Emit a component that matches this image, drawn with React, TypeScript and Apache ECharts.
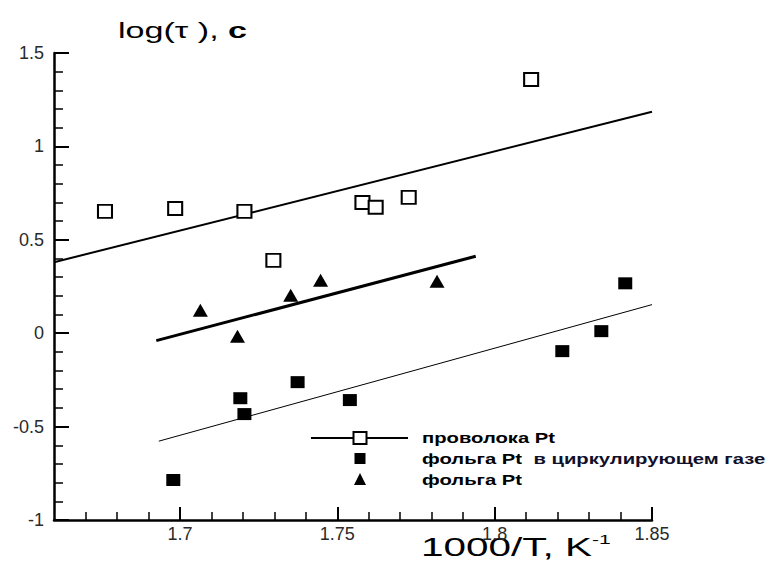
import React, { useEffect, useRef } from 'react';
import * as echarts from 'echarts';

// Axis settings
const xMin = 1.66;
const xMax = 1.85;
const xMajorTicks = [1.7, 1.75, 1.8, 1.85];
const xMinorTicks = [1.67, 1.68, 1.69, 1.71, 1.72, 1.73, 1.74, 1.76, 1.77, 1.78, 1.79, 1.81, 1.82, 1.83, 1.84];
const yMin = -1;
const yMax = 1.5;
const yInterval = 0.5;

// Data: проволока Pt (open squares)
const wireX = [1.6762, 1.6985, 1.7205, 1.7297, 1.758, 1.7622, 1.7727, 1.8116];
const wireY = [0.652, 0.668, 0.652, 0.39, 0.7, 0.674, 0.727, 1.358];
// фольга Pt в циркулирующем газе (filled squares)
const foilGasX = [1.6979, 1.7192, 1.7205, 1.7374, 1.754, 1.8215, 1.8339, 1.8415];
const foilGasY = [-0.786, -0.348, -0.433, -0.262, -0.358, -0.096, 0.011, 0.267];
// фольга Pt (triangles)
const foilX = [1.7065, 1.7183, 1.7352, 1.7447, 1.7817];
const foilY = [0.123, -0.016, 0.203, 0.283, 0.278];

// Fit lines (end points)
const wireFitX = [1.66, 1.85];
const wireFitY = [0.38, 1.185];
const foilFitX = [1.6925, 1.794];
const foilFitY = [-0.04, 0.412];
const foilGasFitX = [1.6933, 1.85];
const foilGasFitY = [-0.578, 0.153];

const legendLabels = ['проволока Pt', 'фольга Pt', 'в циркулирующем газе', 'фольга Pt'];
const xTitle = '1000/T, K';
const xTitleSup = '-1';
const yTitle = 'log(τ ), ';
const yTitleBold = 'c';

const zip = (xs: number[], ys: number[]) => xs.map((x, i) => [x, ys[i]]);

const FONT = '"Liberation Sans", Arial, sans-serif';

export default function App() {
  const ref = useRef<HTMLDivElement>(null);
  useEffect(() => {
    document.body.style.margin = '0';
    const chart = echarts.init(ref.current!, null, { renderer: 'svg' });
    const option: any = {
      animation: false,
      backgroundColor: '#fff',
      grid: { left: 54, right: 119, top: 53, bottom: 54 },
      xAxis: [
        {
          type: 'value',
          min: xMin,
          max: xMax,
          position: 'bottom',
          axisLine: { show: true, onZero: false, lineStyle: { color: '#000', width: 2.5 } },
          axisTick: {
            show: true,
            inside: true,
            length: 13,
            customValues: xMajorTicks,
            lineStyle: { color: '#000', width: 2 },
          },
          axisLabel: {
            customValues: xMajorTicks,
            margin: 5,
            fontFamily: FONT,
            fontSize: 18,
            color: '#2a2a2a',
            formatter: (v: number) => String(Math.round(v * 100) / 100),
          },
          splitLine: { show: false },
        },
        {
          type: 'value',
          min: xMin,
          max: xMax,
          position: 'bottom',
          axisLine: { show: false, onZero: false },
          axisTick: {
            show: true,
            inside: true,
            length: 8,
            customValues: xMinorTicks,
            lineStyle: { color: '#000', width: 1.5 },
          },
          axisLabel: { show: false },
          splitLine: { show: false },
        },
      ],
      yAxis: {
        type: 'value',
        min: yMin,
        max: yMax,
        interval: yInterval,
        axisLine: { show: true, onZero: false, lineStyle: { color: '#000', width: 2.5 } },
        axisTick: { show: true, inside: true, length: 15, lineStyle: { color: '#000', width: 2 } },
        minorTick: { show: true, splitNumber: 5, length: 9, lineStyle: { color: '#000', width: 1.5 } },
        axisLabel: {
          margin: 10,
          fontFamily: FONT,
          fontSize: 18,
          color: '#2a2a2a',
        },
        splitLine: { show: false },
      },
      series: [
        {
          name: legendLabels[0],
          type: 'scatter',
          data: zip(wireX, wireY),
          symbol: 'rect',
          symbolSize: [14, 13],
          itemStyle: { color: '#fff', borderColor: '#000', borderWidth: 2, opacity: 1 },
          z: 5,
        },
        {
          name: legendLabels[1] + ' ' + legendLabels[2],
          type: 'scatter',
          data: zip(foilGasX, foilGasY),
          symbol: 'rect',
          symbolSize: [14, 12],
          itemStyle: { color: '#000', opacity: 1 },
          z: 5,
        },
        {
          name: legendLabels[3],
          type: 'scatter',
          data: zip(foilX, foilY),
          symbol: 'triangle',
          symbolSize: [15, 13],
          itemStyle: { color: '#000', opacity: 1 },
          z: 5,
        },
        {
          type: 'line',
          data: zip(wireFitX, wireFitY),
          showSymbol: false,
          symbol: 'none',
          lineStyle: { color: '#000', width: 2 },
        },
        {
          type: 'line',
          data: zip(foilFitX, foilFitY),
          showSymbol: false,
          symbol: 'none',
          lineStyle: { color: '#000', width: 3 },
        },
        {
          type: 'line',
          data: zip(foilGasFitX, foilGasFitY),
          showSymbol: false,
          symbol: 'none',
          lineStyle: { color: '#000', width: 1 },
        },
      ],
      graphic: [
        // Y title
        {
          type: 'text',
          x: 118,
          y: 30,
          scaleX: 1.55,
          style: {
            text: '{n|' + yTitle + '}{b|' + yTitleBold + '}',
            verticalAlign: 'middle',
            align: 'left',
            rich: {
              n: { fontFamily: FONT, fontSize: 22, fill: '#000', color: '#000' },
              b: { fontFamily: FONT, fontSize: 22, fontWeight: 'bold', fill: '#000', color: '#000' },
            },
          },
        },
        // X title
        {
          type: 'text',
          x: 421,
          y: 547,
          scaleX: 1.62,
          style: {
            text: '{a|' + xTitle + '}{s|' + xTitleSup + '}',
            verticalAlign: 'middle',
            align: 'left',
            rich: {
              a: { fontFamily: FONT, fontSize: 25, fill: '#000', color: '#000', lineHeight: 28 },
              s: { fontFamily: FONT, fontSize: 13, fill: '#000', color: '#000', lineHeight: 28, padding: [0, 0, 14, 0] },
            },
          },
        },
        // Legend
        { type: 'line', shape: { x1: 311, y1: 438, x2: 408, y2: 438 }, style: { stroke: '#000', lineWidth: 2 } },
        { type: 'rect', shape: { x: 353.5, y: 432, width: 13, height: 12 }, style: { fill: '#fff', stroke: '#000', lineWidth: 2 } },
        { type: 'rect', shape: { x: 354.5, y: 453, width: 11, height: 11 }, style: { fill: '#000' } },
        { type: 'polygon', shape: { points: [[354, 485], [366, 485], [360, 473]] }, style: { fill: '#000' } },
        {
          type: 'text', x: 422, y: 438, scaleX: 1.35,
          style: { text: legendLabels[0], font: 'bold 15px ' + FONT, fill: '#000', verticalAlign: 'middle' },
        },
        {
          type: 'text', x: 422, y: 459, scaleX: 1.35,
          style: {
            text: '{a|' + legendLabels[1] + '  }{b|' + legendLabels[2] + '}',
            verticalAlign: 'middle',
            rich: {
              a: { fontFamily: FONT, fontSize: 15, fontWeight: 'bold', fill: '#000', color: '#000' },
              b: { fontFamily: FONT, fontSize: 15, fontWeight: 'bold', fill: '#10102a', color: '#10102a' },
            },
          },
        },
        {
          type: 'text', x: 422, y: 480, scaleX: 1.35,
          style: { text: legendLabels[3], font: 'bold 15px ' + FONT, fill: '#000', verticalAlign: 'middle' },
        },
      ],
    };
    chart.setOption(option);
    return () => chart.dispose();
  }, []);
  return <div ref={ref} style={{ width: 771, height: 574, background: '#fff' }} />;
}
